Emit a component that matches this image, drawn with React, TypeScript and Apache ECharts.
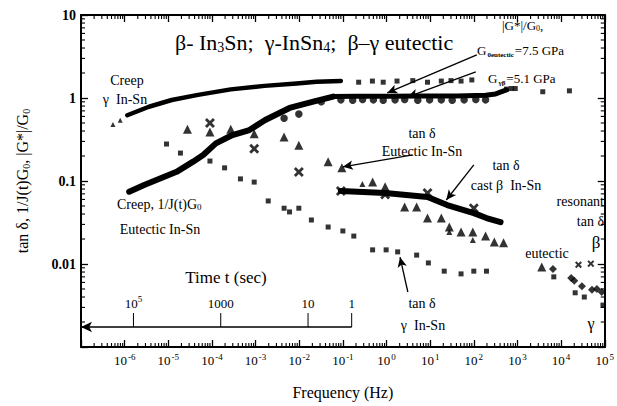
import React, { useEffect, useRef } from 'react';
import * as echarts from 'echarts';

const FONT = 'Liberation Serif';

// ---- data (frequency in Hz, normalized value) ----
// Creep, gamma In-Sn (upper band)
const creepGammaF = [1.15e-6, 3.6e-6, 1.2e-5, 4.8e-5, 2.7e-4, 1.6e-3, 8.7e-3, 0.025, 0.09];
const creepGammaV = [0.62, 0.785, 0.946, 1.09, 1.27, 1.4, 1.5, 1.57, 1.6];
const creepGammaStartF = [5.4e-7, 7.9e-7];
const creepGammaStartV = [0.48, 0.54];
// |G*|/G0 gamma (small squares continuing the upper band)
const modGammaF = [0.23, 0.475, 0.84, 1.74, 4.0, 8.7, 18, 30, 51, 90, 560, 720, 890, 3800, 15500];
const modGammaV = [1.55, 1.6, 1.55, 1.6, 1.62, 1.55, 1.6, 1.62, 1.6, 1.65, 1.28, 1.3, 1.3, 1.19, 1.22];
// Creep 1/J(t)G0, eutectic In-Sn (lower rising band) + |G*|/G0 eutectic
const creepEutF = [1.27e-6, 2.8e-6, 6.7e-6, 1.55e-5, 3.7e-5, 6.3e-5, 1.23e-4, 2.95e-4, 7.2e-4, 1.66e-3, 6.0e-3, 0.021, 0.06];
const creepEutV = [0.0743, 0.0895, 0.108, 0.129, 0.171, 0.206, 0.284, 0.358, 0.411, 0.543, 0.759, 0.902, 1.04];
const modEutF = [0.06, 0.2, 1.1, 6.3, 40, 186, 316, 560];
const modEutV = [1.04, 1.05, 1.05, 1.06, 1.06, 1.08, 1.12, 1.25];
// circles on the eutectic modulus
const modEutCircF = [4.5e-3, 9.8e-3, 0.032, 0.09, 0.168, 0.283, 0.5, 0.84, 1.57, 2.6, 5.2, 9.7, 18, 32, 60, 111, 186];
const modEutCircV = [0.57, 0.64, 0.9, 0.95, 0.94, 0.96, 0.95, 0.94, 0.95, 0.96, 0.94, 0.95, 0.95, 0.94, 0.95, 0.96, 0.95];
// tan delta eutectic (triangles)
const tanEutF = [2.75e-5, 9e-5, 2.7e-4, 9.3e-4, 4.5e-3, 9.8e-3, 0.046, 0.095, 0.48, 0.93, 2.6, 4.9, 8.7, 18, 27.5, 51, 95, 186, 295, 480, 3600];
const tanEutV = [0.42, 0.39, 0.42, 0.37, 0.34, 0.27, 0.17, 0.144, 0.097, 0.085, 0.0486, 0.0486, 0.0358, 0.0358, 0.0279, 0.0243, 0.0243, 0.0217, 0.0184, 0.018, 0.0092];
const tanEutSmallF = [0.28, 27.5, 95];
const tanEutSmallV = [0.092, 0.0243, 0.0195];
// tan delta cast beta (crosses + thick line)
const tanCastXF = [9e-5, 9.3e-4, 9.8e-3, 0.09, 0.93, 8.7, 100];
const tanCastXV = [0.5, 0.245, 0.128, 0.0758, 0.069, 0.0716, 0.047];
const tanCastLineF = [0.09, 0.93, 8.7, 24.5, 100, 195, 410];
const tanCastLineV = [0.0758, 0.0716, 0.064, 0.0513, 0.041, 0.0358, 0.032];
const resBetaF = [25000, 48000];
const resBetaV = [0.0098, 0.0101];
// tan delta gamma In-Sn (small squares)
const tanGammaF = [9.1e-6, 1.9e-5, 9e-5, 1.95e-4, 4.5e-4, 9.3e-4, 1.95e-3, 4.5e-3, 6e-3, 9.8e-3, 0.019, 0.046, 0.1, 0.178, 0.48, 0.98, 1.8, 4.9, 9.1, 21, 51, 100, 195, 6800, 21000, 34000, 91000];
const tanGammaV = [0.279, 0.217, 0.174, 0.144, 0.106, 0.097, 0.0575, 0.047, 0.0424, 0.047, 0.0339, 0.0279, 0.025, 0.0217, 0.0148, 0.0148, 0.014, 0.0128, 0.0103, 0.0082, 0.0076, 0.0082, 0.0082, 0.007, 0.0045, 0.004, 0.0032];
// resonant eutectic (diamonds)
const resEutF = [6500, 17000, 20000, 30000, 51000, 66000, 85000];
const resEutV = [0.0087, 0.0068, 0.0063, 0.0054, 0.0049, 0.005, 0.0046];

// time axis (t in seconds, f = 1/(2 pi t))
const timeTicksT = [1e5, 1000, 10, 1];
const timeTickLabels = ['10{e|5}', '1000', '10', '1'];
const timeAxisV = 0.00174;
const timeAxisStartF = 1e-7;

// axis ranges (decades)
const X_MIN = -7;
const X_MAX = 5;
const Y_MIN = -3;
const Y_MAX = 1;
const yTickLabels: Record<string, string> = { '1': '10', '0': '1', '-1': '0.1', '-2': '0.01', '-3': '' };
const minorMantissas = [2, 3, 4, 5, 6, 7, 8, 9];

// annotation arrows: [fromF, fromV, toF, toV]
const arrows = [
  [117, 3.3, 1.04, 1.15],
  [111, 2.06, 3.08, 1.03],
  [4.0, 0.206, 0.1, 0.148],
  [100, 0.156, 23.4, 0.059],
  [3.08, 0.0046, 2.04, 0.0121],
];

const annotations: { text: string; x: number; y: number; align: string; size?: number }[] = [
  { text: 'β- In{s|3}Sn;  γ-InSn{s|4};  β–γ eutectic', x: 175, y: 42, align: 'left', size: 22 },
  { text: 'Creep', x: 127, y: 80, align: 'center' },
  { text: 'γ  In-Sn', x: 125, y: 99, align: 'center' },
  { text: '|G*|/G{s|0},', x: 502, y: 25, align: 'left', size: 13 },
  { text: 'G{t|0eutectic}=7.5 GPa', x: 477, y: 50, align: 'left', size: 13 },
  { text: 'G{t|γβ}=5.1 GPa', x: 488, y: 78, align: 'left', size: 13 },
  { text: 'tan δ', x: 422, y: 133, align: 'center' },
  { text: 'Eutectic In-Sn', x: 422, y: 151, align: 'center' },
  { text: 'tan δ', x: 506, y: 165, align: 'center' },
  { text: 'cast β  In-Sn', x: 506, y: 185, align: 'center' },
  { text: 'tan δ', x: 422, y: 303, align: 'center' },
  { text: 'γ  In-Sn', x: 423, y: 325, align: 'center' },
  { text: 'resonant', x: 604, y: 201, align: 'right' },
  { text: 'tan δ', x: 604, y: 221, align: 'right' },
  { text: 'β', x: 596, y: 242, align: 'center', size: 17 },
  { text: 'eutectic', x: 547, y: 253, align: 'center' },
  { text: 'γ', x: 591, y: 323, align: 'center', size: 16 },
  { text: 'Creep, 1/J(t)G{s|0}', x: 117, y: 204, align: 'left' },
  { text: 'Eutectic In-Sn', x: 160, y: 229, align: 'center' },
  { text: 'Time t (sec)', x: 226, y: 277, align: 'center', size: 17 },
];

const L = Math.log10;
const pts = (f: number[], v: number[]) => f.map((x, i) => [L(x), L(v[i])]);

const X_SYMBOL = 'path://M0,2 L2,0 L5,3 L8,0 L10,2 L7,5 L10,8 L8,10 L5,7 L2,10 L0,8 L3,5 Z';

function buildOption() {
  const xMinor: number[][] = [];
  for (let k = X_MIN; k < X_MAX; k++) minorMantissas.forEach((m) => xMinor.push([k + L(m), Y_MIN]));
  const yMinor: number[][] = [];
  for (let k = Y_MIN; k < Y_MAX; k++) minorMantissas.forEach((m) => yMinor.push([X_MIN, k + L(m)]));

  const black = '#000';
  const axisCommon = {
    axisLine: { onZero: false, lineStyle: { color: black, width: 2 } },
    axisTick: { inside: true, length: 7, lineStyle: { color: black, width: 1.3 } },
    splitLine: { show: false },
  };

  const scatter = (f: number[], v: number[], symbol: string, size: number, extra: any = {}) => ({
    type: 'scatter',
    data: pts(f, v),
    symbol,
    symbolSize: size,
    itemStyle: { color: black },
    silent: true,
    ...extra,
  });
  const line = (f: number[], v: number[], width: number) => ({
    type: 'line',
    data: pts(f, v),
    symbol: 'none',
    lineStyle: { color: black, width, cap: 'round', join: 'round' },
    silent: true,
  });

  return {
    animation: false,
    textStyle: { fontFamily: FONT, color: black },
    grid: { left: 81, right: 4, top: 15, bottom: 59, containLabel: false },
    xAxis: [
      {
        type: 'value', min: X_MIN, max: X_MAX, interval: 1, position: 'bottom', ...axisCommon,
        axisLabel: {
          color: black, margin: 5, fontFamily: FONT, fontSize: 13,
          formatter: (v: number) => (v === X_MIN ? '' : `{b|10}{e|${v}}`),
          rich: {
            b: { fontSize: 13, fontFamily: FONT, color: black },
            e: { fontSize: 9, fontFamily: FONT, color: black, padding: [0, 0, 8, 1] },
          },
        },
        name: 'Frequency (Hz)', nameLocation: 'middle', nameGap: 37,
        nameTextStyle: { fontFamily: FONT, fontSize: 16, color: black },
      },
      {
        type: 'value', min: X_MIN, max: X_MAX, interval: 1, position: 'top', ...axisCommon,
        axisLabel: { show: false },
      },
    ],
    yAxis: [
      {
        type: 'value', min: Y_MIN, max: Y_MAX, interval: 1, position: 'left', ...axisCommon,
        axisLabel: {
          color: black, margin: 5, fontFamily: FONT, fontSize: 14, fontWeight: 'bold',
          formatter: (v: number) => yTickLabels[String(v)] ?? '',
        },
        name: 'tan δ, 1/J(t)G{s|0}, |G*|/G{s|0}', nameLocation: 'middle', nameGap: 50,
        nameTextStyle: {
          fontFamily: FONT, fontSize: 16, color: black,
          rich: { s: { fontSize: 10, fontFamily: FONT, color: black, padding: [8, 0, 0, 0] } },
        },
      },
      {
        type: 'value', min: Y_MIN, max: Y_MAX, interval: 1, position: 'right', ...axisCommon,
        axisLabel: { show: false },
      },
    ],
    graphic: annotations.map((a) => ({
      type: 'text',
      silent: true,
      style: {
        text: a.text, x: a.x, y: a.y, align: a.align, verticalAlign: 'middle',
        fill: black, fontFamily: FONT, fontSize: a.size ?? 14,
        rich: {
          s: { fontSize: Math.round((a.size ?? 14) * 0.65), fontFamily: FONT, fill: black, padding: [Math.round((a.size ?? 14) * 0.45), 0, 0, 0] },
          t: { fontSize: 7, fontWeight: 'bold', fontFamily: FONT, fill: black, padding: [9, 1, 0, 1] },
        },
      },
    })),
    series: [
      line(creepGammaF, creepGammaV, 4.5),
      scatter(creepGammaStartF, creepGammaStartV, 'triangle', 5),
      scatter(modGammaF, modGammaV, 'rect', 5),
      line(creepEutF, creepEutV, 6),
      line(modEutF, modEutV, 5),
      scatter(modEutCircF, modEutCircV, 'circle', 7.5),
      scatter(tanEutF, tanEutV, 'triangle', 9),
      scatter(tanEutSmallF, tanEutSmallV, 'triangle', 6),
      line(tanCastLineF, tanCastLineV, 6),
      scatter(tanCastXF, tanCastXV, X_SYMBOL, 10),
      scatter(resBetaF, resBetaV, X_SYMBOL, 7),
      scatter(tanGammaF, tanGammaV, 'rect', 5, {
        markLine: {
          silent: true,
          symbol: ['none', 'arrow'],
          symbolSize: [7, 10],
          label: { show: false },
          lineStyle: { color: black, width: 1.3, type: 'solid' },
          data: arrows.map((a) => [{ coord: [L(a[0]), L(a[1])] }, { coord: [L(a[2]), L(a[3])] }]),
        },
      }),
      scatter(resEutF, resEutV, 'diamond', 8, {
        markLine: {
          silent: true,
          symbol: ['arrow', 'none'],
          symbolSize: [8, 11],
          label: { show: false },
          lineStyle: { color: black, width: 1.5, type: 'solid' },
          data: [[
            { coord: [L(timeAxisStartF), L(timeAxisV)] },
            { coord: [L(1 / (2 * Math.PI * timeTicksT[timeTicksT.length - 1])), L(timeAxisV)] },
          ]],
        },
      }),
      {
        type: 'custom',
        silent: true,
        data: timeTicksT.map((t) => [L(1 / (2 * Math.PI * t)), L(timeAxisV)]),
        renderItem: (params: any, api: any) => {
          const p = api.coord([api.value(0), api.value(1)]);
          return {
            type: 'group',
            children: [
              { type: 'line', shape: { x1: p[0], y1: p[1], x2: p[0], y2: p[1] - 14 }, style: { stroke: black, lineWidth: 1 } },
              {
                type: 'text',
                style: {
                  text: timeTickLabels[params.dataIndex], x: p[0], y: p[1] - 24, align: 'center', verticalAlign: 'middle',
                  fill: black, fontFamily: FONT, fontSize: 13,
                  rich: { e: { fontSize: 9, fontFamily: FONT, fill: black, padding: [0, 0, 8, 0] } },
                },
              },
            ],
          };
        },
      },
      {
        type: 'custom',
        silent: true,
        clip: false,
        data: xMinor,
        renderItem: (params: any, api: any) => {
          const pb = api.coord([api.value(0), Y_MIN]);
          const pt = api.coord([api.value(0), Y_MAX]);
          return {
            type: 'group',
            children: [
              { type: 'line', shape: { x1: pb[0], y1: pb[1], x2: pb[0], y2: pb[1] - 4 }, style: { stroke: black, lineWidth: 1.1 } },
              { type: 'line', shape: { x1: pt[0], y1: pt[1], x2: pt[0], y2: pt[1] + 4 }, style: { stroke: black, lineWidth: 1.1 } },
            ],
          };
        },
      },
      {
        type: 'custom',
        silent: true,
        clip: false,
        data: yMinor,
        renderItem: (params: any, api: any) => {
          const pl = api.coord([X_MIN, api.value(1)]);
          const pr = api.coord([X_MAX, api.value(1)]);
          return {
            type: 'group',
            children: [
              { type: 'line', shape: { x1: pl[0], y1: pl[1], x2: pl[0] + 4, y2: pl[1] }, style: { stroke: black, lineWidth: 1.1 } },
              { type: 'line', shape: { x1: pr[0], y1: pr[1], x2: pr[0] - 4, y2: pr[1] }, style: { stroke: black, lineWidth: 1.1 } },
            ],
          };
        },
      },
    ],
  };
}

export default function App() {
  const ref = useRef<HTMLDivElement>(null);
  useEffect(() => {
    if (!ref.current) return;
    const chart = echarts.init(ref.current, null, { renderer: 'svg' });
    chart.setOption(buildOption() as any);
    return () => chart.dispose();
  }, []);
  return (
    <div
      ref={ref}
      style={{ position: 'fixed', left: 0, top: 0, width: 617, height: 406, background: '#fff' }}
    />
  );
}
